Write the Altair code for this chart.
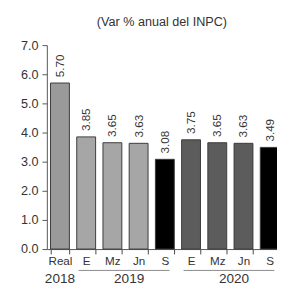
import altair as alt
import pandas as pd

# Data
categories = ["Real", "E", "Mz", "Jn", "S", "E", "Mz", "Jn", "S"]
years = ["2018", "2019", "2019", "2019", "2019", "2020", "2020", "2020", "2020"]
values = [5.70, 3.85, 3.65, 3.63, 3.08, 3.75, 3.65, 3.63, 3.49]
colors = ["#9a9a9a", "#a6a6a6", "#a6a6a6", "#a6a6a6", "#000000",
          "#5c5c5c", "#5c5c5c", "#5c5c5c", "#000000"]

ids = [f"{c} {y}" for c, y in zip(categories, years)]
df = pd.DataFrame({"id": ids, "cat": categories, "year": years,
                   "value": values, "color": colors,
                   "label": [f"{v:.2f}" for v in values]})

group_years = ["2019", "2020"]
group_start = ["E 2019", "E 2020"]
group_end = ["S 2019", "S 2020"]
groups = pd.DataFrame({"year": group_years, "start": group_start, "end": group_end})

year_center_a = pd.DataFrame({"year": ["2018"], "at": ["Real 2018"]})
year_center_b = pd.DataFrame({"year": ["2019", "2020"], "at": ["Jn 2019", "Jn 2020"]})

FONT = "Liberation Sans"
TXT = "#333333"

xscale = alt.Scale(domain=ids, range=[0, 243], paddingInner=0.28, paddingOuter=0.14)
yscale = alt.Scale(domain=[0, 7], nice=False)

xaxis = alt.Axis(title=None, labelAngle=0, tickBand="extent", ticks=True,
                 labelExpr="split(datum.label, ' ')[0]",
                 labelFont=FONT, labelFontSize=12, labelColor=TXT,
                 domainColor="#555", tickColor="#444", tickSize=5, tickWidth=1,
                 labelPadding=2)
yaxis = alt.Axis(title=None, values=[0, 1, 2, 3, 4, 5, 6, 7], format=".1f",
                 grid=False, labelFont=FONT, labelFontSize=13, labelOverlap=False,
                 labelColor=TXT, domainColor="#555", tickColor="#555",
                 tickSize=5, labelPadding=4)

base = alt.Chart(df).encode(
    x=alt.X("id:N", scale=xscale, sort=ids, axis=xaxis),
    y=alt.Y("value:Q", scale=yscale, axis=yaxis),
)

bars = base.mark_bar(stroke="#3a3a3a", strokeWidth=1).encode(
    color=alt.Color("color:N", scale=None),
)

labels = base.mark_text(angle=270, align="left", baseline="middle",
                        dx=6, font=FONT, fontSize=12, color=TXT).encode(
    text="label:N",
)

lines = alt.Chart(groups).mark_rule(color="#888", strokeWidth=1).encode(
    x=alt.X("start:N", scale=xscale, sort=ids, bandPosition=0.1, axis=xaxis),
    x2=alt.X2("end:N", bandPosition=0.75),
    y=alt.value(232),
)

yrs_a = alt.Chart(year_center_a).mark_text(font=FONT, fontSize=14, color=TXT,
                                           baseline="alphabetic").encode(
    x=alt.X("at:N", scale=xscale, sort=ids, bandPosition=0.5, axis=xaxis),
    y=alt.value(245),
    text="year:N",
)
yrs_b = alt.Chart(year_center_b).mark_text(font=FONT, fontSize=14, color=TXT,
                                           baseline="alphabetic").encode(
    x=alt.X("at:N", scale=xscale, sort=ids, bandPosition=0, axis=xaxis),
    y=alt.value(245),
    text="year:N",
)

chart = alt.layer(bars, labels, lines, yrs_a, yrs_b).properties(
    width=237, height=210,
    autosize=alt.AutoSizeParams(type="none"),
    padding={"left": 40, "top": 34, "right": 0, "bottom": 41},
    title=alt.TitleParams("(Var % anual del INPC)", font=FONT, fontSize=13,
                          fontWeight="normal", color=TXT, anchor="middle",
                          frame="group", offset=10, dy=-1),
).configure_view(stroke=None)

chart.save("out.html", embed_options={"renderer": "svg", "actions": False})
